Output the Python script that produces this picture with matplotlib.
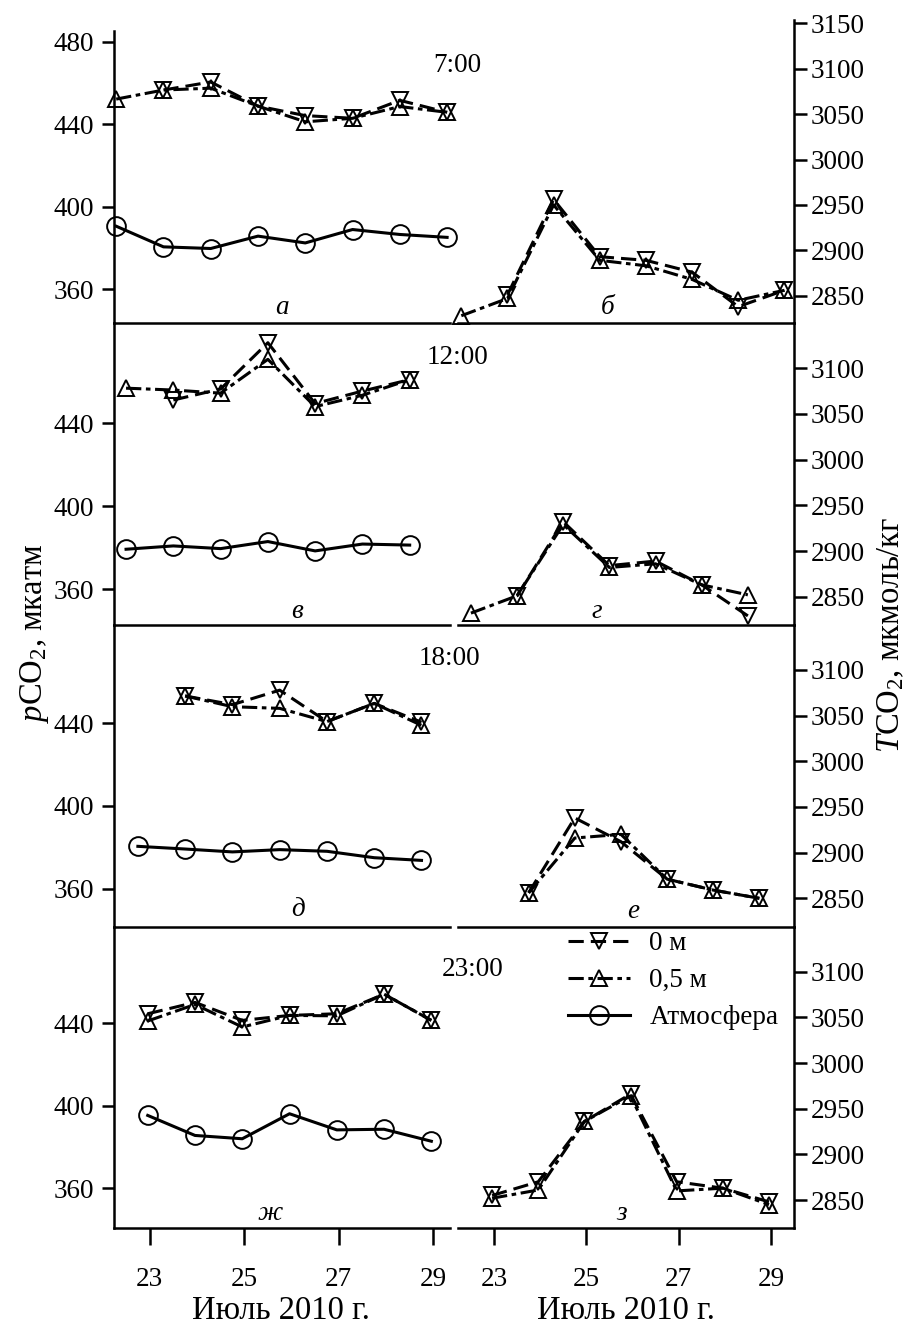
import numpy as np
import matplotlib
matplotlib.use("Agg")
import matplotlib.pyplot as plt

plt.rcParams['font.family'] = ['Liberation Serif', 'DejaVu Serif']
plt.rcParams['mathtext.fontset'] = 'custom'
plt.rcParams['mathtext.rm'] = 'Liberation Serif'
plt.rcParams['mathtext.it'] = 'Liberation Serif:italic'

nan = np.nan

# ---------------- data ----------------
hours = [7, 12, 18, 23]
time_labels = ["7:00", "12:00", "18:00", "23:00"]
panel_left = ["а", "в", "д", "ж"]
panel_right = ["б", "г", "е", "з"]

days_07 = [22, 23, 24, 25, 26, 27, 28, 29]
days_12 = [22, 23, 24, 25, 26, 27, 28]
days_18 = [22, 23, 24, 25, 26, 27, 28]
days_23 = [22, 23, 24, 25, 26, 27, 28]

# pCO2, мкатм
p0_07 = [nan, 456.6, 460.5, 448.8, 444.2, 442.9, 451.6, 445.8]
p05_07 = [452.2, 456.6, 457.5, 448.8, 441.2, 442.9, 448.6, 445.8]
atm_07 = [390.6, 380.6, 379.8, 385.8, 382.5, 389.0, 386.6, 385.2]

p0_12 = [nan, 451.2, 456.5, 478.8, 449.5, 455.5, 461.0]
p05_12 = [456.9, 456.0, 454.5, 470.8, 448.0, 453.5, 461.0]
atm_12 = [379.3, 380.9, 379.6, 383.0, 378.5, 381.8, 381.3]

p0_18 = [nan, 453.2, 449.0, 456.0, 440.8, 449.6, 440.5]
p05_18 = [nan, 453.2, 448.0, 447.2, 440.8, 449.6, 439.0]
atm_18 = [380.5, 379.2, 377.8, 378.9, 378.1, 375.0, 373.7]

p0_23 = [444.5, 450.0, 441.3, 443.7, 444.5, 454.0, 441.3]
p05_23 = [441.0, 449.0, 438.1, 443.7, 443.5, 454.0, 441.3]
atm_23 = [395.3, 385.6, 384.0, 396.1, 388.3, 388.6, 382.8]

# TCO2, мкмоль/кг
t0_07 = [nan, 2851, 2956, 2893, 2889, 2876, 2838, 2856]
t05_07 = [2828, 2847, 2950, 2889, 2883, 2868, 2845, 2856]

t0_12 = [nan, 2851, 2932, 2884, 2889, 2863, 2829]
t05_12 = [2832, 2851, 2929, 2882, 2886, 2863, 2852]

t0_18 = [nan, 2856, 2938, 2912, 2871, 2859, 2850]
t05_18 = [nan, 2856, 2916, 2920, 2871, 2859, 2850]

t0_23 = [2855, 2870, 2936, 2966, 2870, 2863, 2848]
t05_23 = [2852, 2861, 2936, 2964, 2860, 2863, 2845]

xticks = [23, 25, 27, 29]
legend_labels = ["0 м", "0,5 м", "Атмосфера"]

rows = [
    (days_07, p0_07, p05_07, atm_07, t0_07, t05_07),
    (days_12, p0_12, p05_12, atm_12, t0_12, t05_12),
    (days_18, p0_18, p05_18, atm_18, t0_18, t05_18),
    (days_23, p0_23, p05_23, atm_23, t0_23, t05_23),
]

# ---------------- layout ----------------
W, H = 911, 1327
fig = plt.figure(figsize=(W / 100, H / 100), dpi=100)

FS = 19.5
FS_LAB = 23.5
LW_AX = 1.8
left_x0, left_x1 = 114, 450
right_x0, right_x1 = 458, 794
row_bottoms = [323, 625, 927, 1228]
left_tops = [31, 323, 625, 927]
right_tops = [20, 323, 625, 927]

left_ylims = [(343.7, 485.2), (342.8, 488.3), (341.5, 487.5), (340.8, 486.5)]
right_ylims = [(2820, 3153.6), (2819, 3149.6), (2818.6, 3149.2), (2819.4, 3148.9)]
left_xlim = (22.245, 29.353)
right_xlim = (22.22, 29.5)

left_yticks = [[360, 400, 440, 480], [360, 400, 440], [360, 400, 440], [360, 400, 440]]
right_yticks = [[2850, 2900, 2950, 3000, 3050, 3100, 3150]] + [[2850, 2900, 2950, 3000, 3050, 3100]] * 3


def fx(px):
    return px / W


def fy(py):
    return 1 - py / H


style0 = dict(color='black', lw=2.2, marker='v', ms=11.5, mfc='none', mec='black', mew=1.4,
              dashes=(5, 2.3))
style05 = dict(color='black', lw=2.2, marker='^', ms=11.5, mfc='none', mec='black', mew=1.4,
               dashes=(5, 1.5, 1.5, 1.5))
style_atm = dict(color='black', lw=2.2, marker='o', ms=13.5, mfc='none', mec='black', mew=1.4,
                 linestyle='-')

handles = None
for i, (days, p0, p05, atm, t0, t05) in enumerate(rows):
    x = np.array(days) + hours[i] / 24.0
    b = row_bottoms[i]
    # left axes
    axl = fig.add_axes([fx(left_x0), fy(b), fx(left_x1 - left_x0), (b - left_tops[i]) / H])
    h0, = axl.plot(x, p0, label=legend_labels[0], **style0)
    h05, = axl.plot(x, p05, label=legend_labels[1], **style05)
    ha, = axl.plot(x, atm, label=legend_labels[2], **style_atm)
    axl.set_xlim(*left_xlim)
    axl.set_ylim(*left_ylims[i])
    axl.set_yticks(left_yticks[i])
    for s in ['top', 'right']:
        axl.spines[s].set_visible(False)
    for s in ['left', 'bottom']:
        axl.spines[s].set_linewidth(LW_AX)
    axl.tick_params(axis='y', direction='out', length=9, width=LW_AX, pad=5.5, labelsize=FS)
    # right axes
    axr = fig.add_axes([fx(right_x0), fy(b), fx(right_x1 - right_x0), (b - right_tops[i]) / H])
    axr.plot(x, t0, **style0)
    axr.plot(x, t05, **style05)
    axr.set_xlim(*right_xlim)
    axr.set_ylim(*right_ylims[i])
    axr.set_yticks(right_yticks[i])
    axr.yaxis.tick_right()
    for s in ['top', 'left']:
        axr.spines[s].set_visible(False)
    for s in ['right', 'bottom']:
        axr.spines[s].set_linewidth(LW_AX)
    axr.tick_params(axis='y', direction='out', length=9, width=LW_AX, pad=3, labelsize=FS)

    for ax in (axl, axr):
        ax.patch.set_alpha(0)
        for ln in ax.lines:
            ln.set_clip_on(False)
        if i < 3:
            ax.set_xticks([])
        else:
            ax.set_xticks(xticks)
            ax.tick_params(axis='x', direction='out', length=12, width=LW_AX, pad=16, labelsize=FS)
    if i == 3:
        handles = [h0, h05, ha]

# time labels
time_pos = [(457, 65), (457, 358), (449, 658), (473, 970)]
for lab, (px, py) in zip(time_labels, time_pos):
    fig.text(fx(px), fy(py), lab, ha='center', va='center', fontsize=FS)

# panel letters
left_letter_pos = [(282, 308), (297, 611), (298, 909), (270, 1213)]
right_letter_pos = [(608, 308), (597, 611), (633, 911), (622, 1213)]
for lab, (px, py) in zip(panel_left, left_letter_pos):
    fig.text(fx(px), fy(py), lab, ha='center', va='center', fontsize=FS, style='italic')
for lab, (px, py) in zip(panel_right, right_letter_pos):
    fig.text(fx(px), fy(py), lab, ha='center', va='center', fontsize=FS, style='italic')

# axis labels
fig.text(fx(35), fy(633), r'$p$CO$_2$, мкатм', rotation=90, ha='center', va='center', fontsize=FS_LAB)
fig.text(fx(891), fy(635), r'$T$CO$_2$, мкмоль/кг', rotation=90, ha='center', va='center', fontsize=FS_LAB)
fig.text(fx(281), fy(1311), 'Июль 2010 г.', ha='center', va='center', fontsize=FS_LAB)
fig.text(fx(626), fy(1311), 'Июль 2010 г.', ha='center', va='center', fontsize=FS_LAB)

# legend
fig.legend(handles=handles, labels=legend_labels, loc='upper left',
           bbox_to_anchor=(fx(568), fy(931)), frameon=False, fontsize=FS,
           borderpad=0, borderaxespad=0, handlelength=2.3, handletextpad=0.7,
           labelspacing=0.45)

fig.savefig('out.png', dpi=100)
